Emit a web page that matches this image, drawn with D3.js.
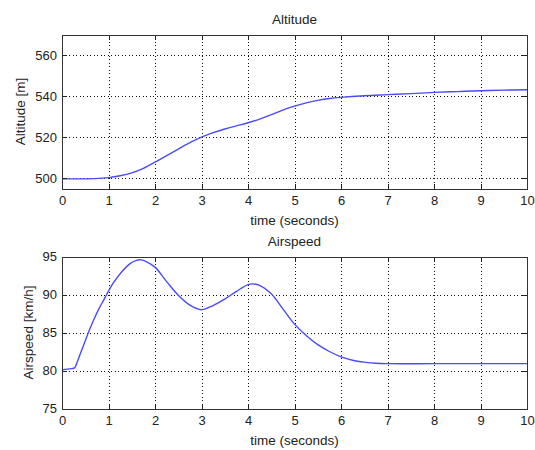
<!DOCTYPE html>
<html>
<head>
<meta charset="utf-8">
<script src="https://cdn.jsdelivr.net/npm/d3@7"></script>
<style>
  html, body { margin: 0; padding: 0; background: #fff; }
  svg text { font-family: "Liberation Sans", Arial, Helvetica, sans-serif; fill: #222; }
</style>
</head>
<body>
<svg id="chart" width="535" height="450"></svg>
<script>
// Flight simulation response: altitude and airspeed over 10 seconds
const timeTicks = [0, 1, 2, 3, 4, 5, 6, 7, 8, 9, 10];

const altitudeTime  = [0, 0.5, 0.7, 1.0, 1.25, 1.5, 1.75, 2.0, 2.25, 2.5, 2.75, 3.0, 3.25, 3.5, 3.75, 4.0, 4.25, 4.5, 4.75, 5.0, 5.25, 5.5, 5.75, 6.0, 6.5, 7.0, 7.5, 8.0, 8.5, 9.0, 9.5, 10];
const altitudeValue = [499.7, 499.7, 499.8, 500.3, 501.2, 502.6, 504.8, 507.8, 511.0, 514.2, 517.3, 520.0, 522.2, 524.0, 525.5, 527.0, 528.8, 531.0, 533.2, 535.1, 536.7, 537.9, 538.8, 539.4, 540.2, 540.7, 541.2, 541.8, 542.2, 542.6, 542.9, 543.1];
const altitudeTicks = [500, 520, 540, 560];

const airspeedTime  = [0, 0.2, 0.27, 0.32, 0.4, 0.5, 0.6, 0.7, 0.8, 0.9, 0.96, 1.1, 1.3, 1.45, 1.6, 1.7, 1.85, 2.0, 2.25, 2.5, 2.75, 3.0, 3.25, 3.5, 3.75, 4.0, 4.1, 4.25, 4.5, 4.75, 5.0, 5.25, 5.5, 5.75, 6.0, 6.25, 6.5, 6.75, 7.0, 8.0, 9.0, 10];
const airspeedValue = [80.1, 80.25, 80.35, 81.0, 82.3, 83.9, 85.5, 86.9, 88.2, 89.3, 90.0, 91.5, 93.1, 94.0, 94.5, 94.55, 94.2, 93.6, 91.7, 89.9, 88.6, 88.0, 88.55, 89.4, 90.4, 91.3, 91.4, 91.2, 90.1, 88.1, 86.1, 84.6, 83.4, 82.5, 81.8, 81.35, 81.1, 80.95, 80.9, 80.9, 80.9, 80.9];
const airspeedTicks = [75, 80, 85, 90, 95];

const svg = d3.select("#chart");

function drawPanel(cfg) {
  const left = 62, right = 527;
  const x = d3.scaleLinear().domain([0, 10]).range([left, right]);
  const y = d3.scaleLinear().domain(cfg.yDomain).range([cfg.bottom, cfg.top]);
  const g = svg.append("g");

  // white plot area
  g.append("rect")
    .attr("x", left).attr("y", cfg.top)
    .attr("width", right - left).attr("height", cfg.bottom - cfg.top)
    .attr("fill", "#fff");

  // dotted grid
  const grid = g.append("g")
    .attr("stroke", "#111").attr("stroke-width", 1)
    .attr("stroke-dasharray", "1,2.5").attr("shape-rendering", "crispEdges");
  grid.selectAll("line.gx").data(timeTicks.filter(t => t > 0 && t < 10)).join("line")
    .attr("x1", d => Math.round(x(d)) + 0.5).attr("x2", d => Math.round(x(d)) + 0.5)
    .attr("y1", cfg.top).attr("y2", cfg.bottom);
  grid.selectAll("line.gy").data(cfg.yTicks.filter(v => v > cfg.yDomain[0] && v < cfg.yDomain[1])).join("line")
    .attr("x1", left).attr("x2", right)
    .attr("y1", d => Math.round(y(d)) + 0.5).attr("y2", d => Math.round(y(d)) + 0.5);

  // data line
  const line = d3.line()
    .x((d, i) => x(cfg.t[i]))
    .y(d => y(d))
    .curve(d3.curveCatmullRom.alpha(0.5));
  g.append("path")
    .datum(cfg.v)
    .attr("d", line)
    .attr("fill", "none")
    .attr("stroke", "#4a4aff")
    .attr("stroke-width", 1.4);

  // axes with inward ticks on all four sides
  const fmt = d3.format("d");
  const axB = g.append("g").attr("transform", `translate(0,${cfg.bottom})`)
    .call(d3.axisBottom(x).tickValues(timeTicks).tickFormat(fmt).tickSizeInner(-5).tickSizeOuter(0).tickPadding(7));
  const axT = g.append("g").attr("transform", `translate(0,${cfg.top})`)
    .call(d3.axisTop(x).tickValues(timeTicks).tickFormat("").tickSizeInner(-5).tickSizeOuter(0));
  const axL = g.append("g").attr("transform", `translate(${left},0)`)
    .call(d3.axisLeft(y).tickValues(cfg.yTicks).tickFormat(fmt).tickSizeInner(-5).tickSizeOuter(0).tickPadding(5));
  const axR = g.append("g").attr("transform", `translate(${right},0)`)
    .call(d3.axisRight(y).tickValues(cfg.yTicks).tickFormat("").tickSizeInner(-5).tickSizeOuter(0));
  [axB, axT, axL, axR].forEach(a => {
    a.select(".domain").remove();
    a.selectAll("line").attr("stroke", "#222").attr("shape-rendering", "crispEdges");
    a.selectAll("text").attr("font-size", 13).attr("fill", "#222")
      .style("font-family", '"Liberation Sans", Arial, sans-serif');
  });

  // box
  g.append("rect")
    .attr("x", left + 0.5).attr("y", Math.round(cfg.top) + 0.5)
    .attr("width", right - left).attr("height", Math.round(cfg.bottom) - Math.round(cfg.top))
    .attr("fill", "none").attr("stroke", "#333").attr("stroke-width", 1)
    .attr("shape-rendering", "crispEdges");

  // titles and labels
  g.append("text")
    .attr("x", (left + right) / 2).attr("y", cfg.top - 11)
    .attr("text-anchor", "middle").attr("font-size", 13.5)
    .text(cfg.title);
  g.append("text")
    .attr("x", (left + right) / 2).attr("y", cfg.bottom + 36)
    .attr("text-anchor", "middle").attr("font-size", 13.5)
    .text("time (seconds)");
  g.append("text")
    .attr("transform", `translate(${cfg.yLabelX},${(cfg.top + cfg.bottom) / 2}) rotate(-90)`)
    .attr("text-anchor", "middle").attr("font-size", 13.5)
    .text(cfg.yLabel);
}

drawPanel({
  title: "Altitude", yLabel: "Altitude [m]", yLabelX: 25,
  top: 34.5, bottom: 188.5, yDomain: [495, 570], yTicks: altitudeTicks,
  t: altitudeTime, v: altitudeValue
});

drawPanel({
  title: "Airspeed", yLabel: "Airspeed [km/h]", yLabelX: 33,
  top: 256.5, bottom: 408.5, yDomain: [75, 95], yTicks: airspeedTicks,
  t: airspeedTime, v: airspeedValue
});
</script>
</body>
</html>
